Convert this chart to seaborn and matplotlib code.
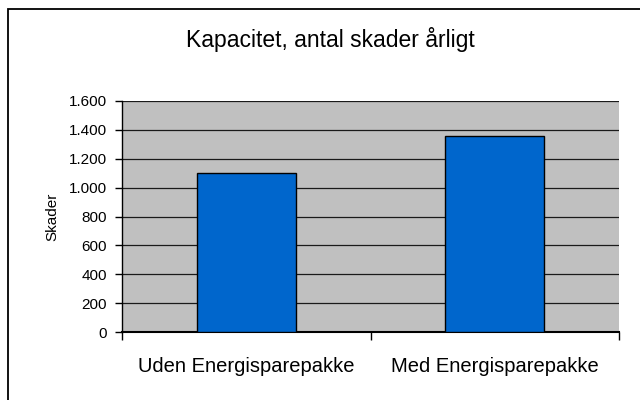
import matplotlib
matplotlib.use('Agg')
import matplotlib.pyplot as plt
import matplotlib.ticker as mticker
from matplotlib.patches import Rectangle
import pandas as pd
import seaborn as sns

# --- DATA ---
categories = ['Uden Energisparepakke', 'Med Energisparepakke']
skader = [1100, 1355]
y_ticks = [0, 200, 400, 600, 800, 1000, 1200, 1400, 1600]

sns.set_theme(style="white")
plt.rcParams['font.family'] = ['Liberation Sans', 'DejaVu Sans']

df = pd.DataFrame({'kategori': categories, 'skader': skader})

fig = plt.figure(figsize=(6.4, 4.0), dpi=100)
fig.patch.set_facecolor('white')
ax = fig.add_axes([122 / 640, 1 - 332 / 400, (619 - 122) / 640, (332 - 101) / 400])
ax.set_facecolor('#C0C0C0')

sns.barplot(data=df, x='kategori', y='skader', color='#0066CC', saturation=1,
            edgecolor='black', linewidth=1, width=0.4, ax=ax, zorder=3)

ax.set_ylim(0, 1600)
ax.set_xlim(-0.5, 1.5)
ax.set_yticks(y_ticks)
ax.yaxis.set_major_formatter(mticker.FuncFormatter(lambda x, _: f'{x:,.0f}'.replace(',', '.')))
ax.yaxis.grid(True, color='#1a1a1a', linewidth=0.9, zorder=1)
ax.set_axisbelow(True)

# spines like Excel
for s in ['top', 'right']:
    ax.spines[s].set_visible(False)
ax.spines['left'].set_color('black')
ax.spines['bottom'].set_color('black')
ax.spines['left'].set_linewidth(1)
ax.spines['bottom'].set_linewidth(1.5)

ax.tick_params(axis='y', which='major', left=True, length=5, width=1, color='black',
               labelsize=11, pad=6, labelcolor='black')
ax.tick_params(axis='x', which='major', bottom=False, labelsize=14.5, pad=12, labelcolor='black')
ax.set_xticks([-0.5, 0.5, 1.5], minor=True)
ax.tick_params(axis='x', which='minor', bottom=True, length=6, width=1, color='black')

ax.set_xlabel('')
ax.set_ylabel('Skader', fontsize=11, labelpad=7, color='black')

fig.text(330 / 640, 1 - 47 / 400, 'Kapacitet, antal skader årligt',
         ha='center', va='baseline', fontsize=16.5, color='black')

# chart frame
fig.patches.append(Rectangle((8 / 640, -0.1), 1.2, 1 - 9 / 400 + 0.1,
                             transform=fig.transFigure, fill=False,
                             edgecolor='black', linewidth=1.3))

plt.savefig('out.png', dpi=100)
plt.close()
